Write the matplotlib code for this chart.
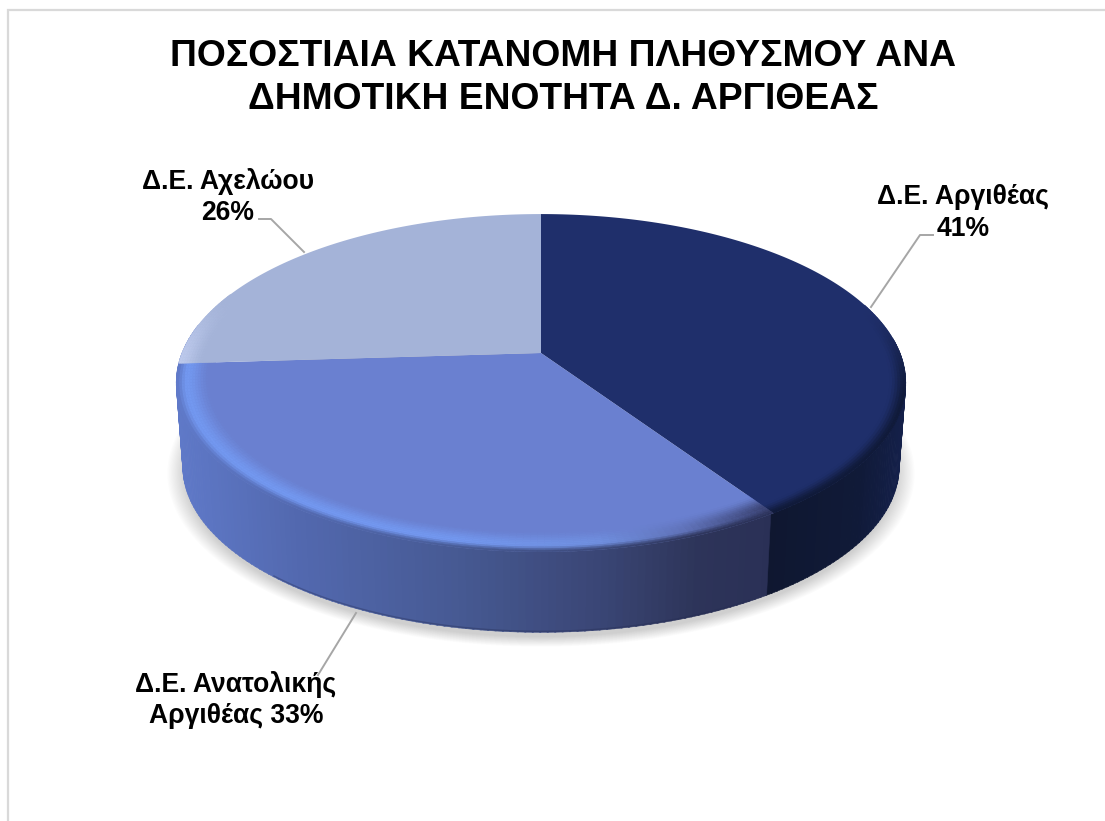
import numpy as np
import matplotlib
matplotlib.use("Agg")
import matplotlib.pyplot as plt
from matplotlib.collections import PolyCollection
from matplotlib.colors import to_rgb
from matplotlib.patches import Polygon

# ---------- data ----------
title = "ΠΟΣΟΣΤΙΑΙΑ ΚΑΤΑΝΟΜΗ ΠΛΗΘΥΣΜΟΥ ΑΝΑ\nΔΗΜΟΤΙΚΗ ΕΝΟΤΗΤΑ Δ. ΑΡΓΙΘΕΑΣ"
categories = ["Δ.Ε. Αργιθέας", "Δ.Ε. Ανατολικής Αργιθέας", "Δ.Ε. Αχελώου"]
values = [40.7, 33.3, 26.0]
label_formats = ["Δ.Ε. Αργιθέας\n{}%", "Δ.Ε. Ανατολικής\nΑργιθέας {}%", "Δ.Ε. Αχελώου\n{}%"]
face_colors = ["#1F2F6B", "#6A80D0", "#A4B3D8"]

plt.rcParams['font.family'] = ['Liberation Sans', 'DejaVu Sans']
fig = plt.figure(figsize=(11.05, 8.21), dpi=100)
ax = fig.add_axes([0, 0, 1, 1])
ax.set_xlim(0, 1105)
ax.set_ylim(821, 0)
ax.axis("off")

# frame
ax.plot([1105, 8, 8], [10, 10, 821], color="#D9D9D9", lw=1.6, solid_joinstyle="miter", zorder=1)

# pie projection (perspective disc seen from above)
CX, CY, A, B, K = 541.0, 353.0, 359.0, 163.6, 0.1775
DEPTH = 84.0

def proj(theta_deg, r=1.0, dy=0.0, scale=1.0):
    t = np.radians(theta_deg)
    w = 1 + K * r * np.cos(t)
    return (CX + scale * A * r * np.sin(t) / w,
            CY + dy + (scale * (-B) * r * np.cos(t) / w))

def lerp(c1, c2, t):
    c1, c2 = np.array(to_rgb(c1)), np.array(to_rgb(c2))
    return tuple(c1 + (c2 - c1) * np.clip(t, 0, 1))

def sstep(a, b, x):
    t = np.clip((x - a) / (b - a), 0, 1)
    return t * t * (3 - 2 * t)

def ramp(x, xs, cols):
    rgb = np.array([to_rgb(c) for c in cols])
    return tuple(np.interp(x, xs, rgb[:, i]) for i in range(3))

edges = np.cumsum([0] + values) / sum(values) * 360.0

# soft shadow under the pie
th = np.linspace(0, 360, 241)
for s in np.linspace(1.04, 0.99, 16):
    x, y = proj(th, dy=DEPTH + 6, scale=0.985 * s)
    ax.add_patch(Polygon(np.c_[x, y], closed=True, fc=(0, 0, 0, 0.0115), ec="none", zorder=2))

# side wall
side_xs = [175, 300, 450, 600, 700, 775]
side_cols = ["#5F79C8", "#5268AE", "#475A94", "#3A4675", "#2D3459", "#2A3056"]
dark_side_xs = [770, 860, 905]
dark_side_cols = ["#0F1730", "#101A38", "#14204A"]
polys, cols = [], []
for t0 in np.arange(85, 280, 1.0):
    t1 = t0 + 1.2
    x0, y0 = proj(t0)
    x1, y1 = proj(t1)
    x2, y2 = proj(t1, dy=DEPTH, scale=0.982)
    x3, y3 = proj(t0, dy=DEPTH, scale=0.982)
    polys.append([(x0, y0), (x1, y1), (x2, y2), (x3, y3)])
    xm = (x0 + x1) / 2
    if t0 < edges[1]:
        cols.append(ramp(xm, dark_side_xs, dark_side_cols))
    else:
        cols.append(ramp(xm, side_xs, side_cols))
ax.add_collection(PolyCollection(polys, facecolors=cols, edgecolors=cols, linewidths=0.4, zorder=3))

# dark lower edge of the wall
tb = np.arange(150, 222, 1.0)
xb, yb = proj(tb, dy=DEPTH, scale=0.982)
ax.plot(xb, yb - 1, color="#232A50", lw=1.0, alpha=0.35, zorder=3.5)

# top faces with bevelled rim
polys, cols = [], []
RIM_IN = 0.90
radii = np.linspace(RIM_IN, 1.0, 15)
for i, (a0, a1) in enumerate(zip(edges[:-1], edges[1:])):
    ts = np.arange(a0, a1 + 0.01, 1.0)
    if ts[-1] < a1:
        ts = np.r_[ts, a1]
    x, y = proj(ts, r=1.0)
    ax.add_patch(Polygon(np.r_[[[CX, CY]], np.c_[x, y]], closed=True,
                         fc=face_colors[i], ec="none", zorder=4))
    for tt0, tt1 in zip(ts[:-1], ts[1:]):
        tm = 0.5 * (tt0 + tt1)
        if i == 0 and tm < 72:
            continue
        if i == 2 and tm > 292:
            continue
        for r0, r1 in zip(radii[:-1], radii[1:]):
            u = (0.5 * (r0 + r1) - RIM_IN) / (1 - RIM_IN)
            xm = proj(tm)[0]
            if i == 0:
                s = sstep(72, 108, tm)
                c = lerp(face_colors[0], "#101A38", s * sstep(0.55, 1.0, u))
            elif i == 1:
                hl = ramp(xm, [175, 450, 600, 690, 775], ["#7398F0", "#7398F0", "#7090E0", "#6072B8", "#3A4272"])
                sc = ramp(xm, side_xs, side_cols)
                if u < 0.72:
                    c = lerp(face_colors[1], hl, sstep(0.1, 0.72, u))
                else:
                    c = lerp(hl, sc, sstep(0.72, 1.0, u))
            else:
                s = 1 - sstep(268, 292, tm)
                c = lerp(face_colors[2], "#BCC9EC", s * sstep(0.3, 1.0, u))
            polys.append([proj(tt0, r0), proj(tt1, r0), proj(tt1, r1), proj(tt0, r1)])
            cols.append(c)
ax.add_collection(PolyCollection(polys, facecolors=cols, edgecolors=cols, linewidths=0.3, zorder=4.5))

# title
ax.text(563, 78, title, ha="center", va="center", fontsize=26.8, fontweight="bold",
        color="black", linespacing=1.28, zorder=6)

# leader lines
LEAD = "#A6A6A6"
ax.plot([933, 920, 871], [235, 235, 307], color=LEAD, lw=1.4, zorder=5)
ax.plot([356, 318], [613, 675], color=LEAD, lw=1.4, zorder=5)
ax.plot([259, 271, 304], [219, 219, 252], color=LEAD, lw=1.4, zorder=5)

# labels
label_pos = [(963, 213), (236, 700), (228, 197)]
for fmt, v, (lx, ly) in zip(label_formats, values, label_pos):
    ax.text(lx, ly, fmt.format(round(v)), ha="center", va="center", fontsize=19.1, fontweight="bold",
            color="black", linespacing=1.26, zorder=6)

fig.savefig("out.png", dpi=100)
